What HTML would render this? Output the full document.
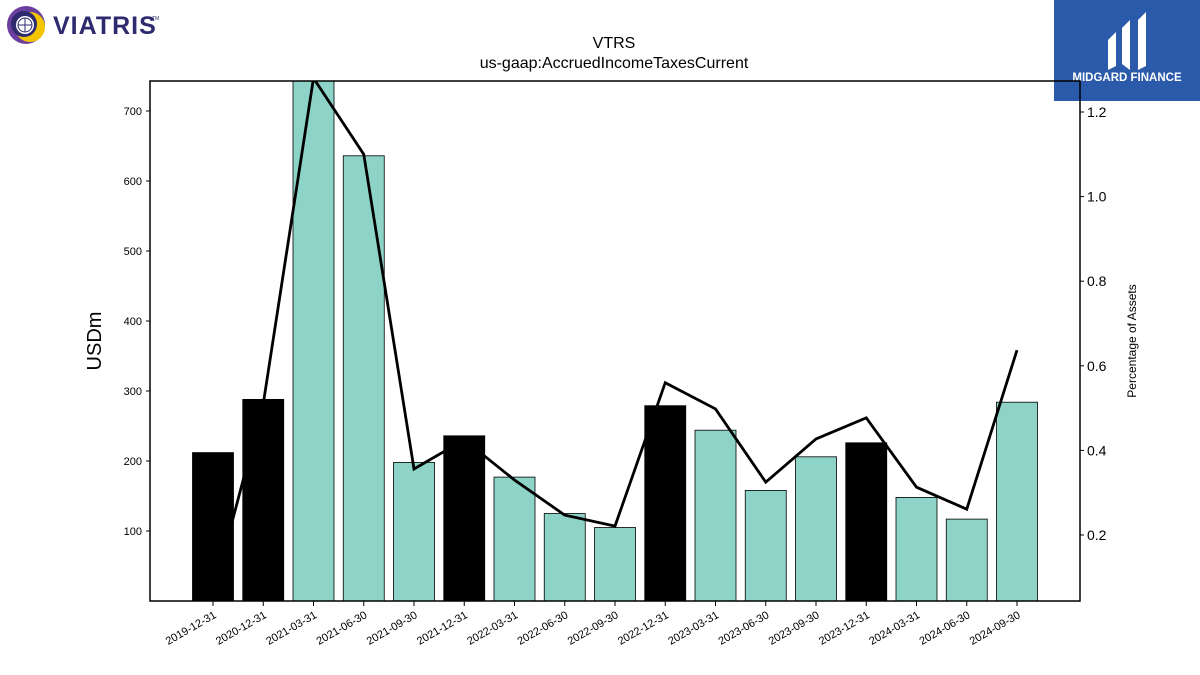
<!DOCTYPE html>
<html><head><meta charset="utf-8"><style>
body{margin:0;background:#fff;font-family:"Liberation Sans","DejaVu Sans",sans-serif;}
#wrap{position:relative;width:1200px;height:675px;overflow:hidden;}
</style></head><body>
<div id="wrap">
<svg id="chart" width="1200" height="675" xmlns="http://www.w3.org/2000/svg">
  <g>
    <circle cx="26" cy="25" r="19" fill="#6b3fa0"/>
    <circle cx="30" cy="27" r="15" fill="#f2c500"/>
    <circle cx="24" cy="24" r="13" fill="#2d2a6e"/>
    <circle cx="25" cy="25" r="9" fill="#fff"/>
    <circle cx="25" cy="25" r="7" fill="none" stroke="#2d2a6e" stroke-width="1"/>
    <line x1="18" y1="25" x2="32" y2="25" stroke="#2d2a6e" stroke-width="1"/>
    <line x1="25" y1="18" x2="25" y2="32" stroke="#2d2a6e" stroke-width="1"/>
    <text x="53" y="34" font-size="25" font-weight="bold" fill="#2d2a6e" letter-spacing="1">VIATRIS</text>
    <text x="152" y="20" font-size="5" fill="#2d2a6e">TM</text>
  </g>
  <g>
    <rect x="1054" y="0" width="146" height="101" fill="#2b5aab"/>
    <path d="M1108 40 L1116 32 L1116 66 L1108 70 Z M1122 28 L1130 20 L1130 70 L1122 64 Z M1138 20 L1146 12 L1146 66 L1138 70 Z" fill="#fff"/>
    <text x="1127" y="81" font-size="11.5" font-weight="bold" fill="#fff" text-anchor="middle">MIDGARD FINANCE</text>
  </g>
  <text x="614" y="48" font-size="16" text-anchor="middle">VTRS</text>
  <text x="614" y="68" font-size="16" text-anchor="middle">us-gaap:AccruedIncomeTaxesCurrent</text>
  <g id="bars"></g>
  <g id="line"></g>
  <g id="axes"></g>
  <text transform="translate(101,341) rotate(-90)" font-size="20" text-anchor="middle">USDm</text>
  <text transform="translate(1136,341) rotate(-90)" font-size="12" text-anchor="middle">Percentage of Assets</text>
</svg>
</div>
<script>
const categories=["2019-12-31","2020-12-31","2021-03-31","2021-06-30","2021-09-30","2021-12-31","2022-03-31","2022-06-30","2022-09-30","2022-12-31","2023-03-31","2023-06-30","2023-09-30","2023-12-31","2024-03-31","2024-06-30","2024-09-30"];
const values=[212,288,750,636,198,236,177,125,105,279,244,158,206,226,148,117,284];
const annual=[true,true,false,false,false,true,false,false,false,true,false,false,false,true,false,false,false];
const pct=[0.06,0.51,1.28,1.10,0.356,0.425,0.33,0.247,0.221,0.56,0.498,0.325,0.427,0.477,0.313,0.261,0.637];
const leftTicks=[100,200,300,400,500,600,700];
const rightTicks=[0.2,0.4,0.6,0.8,1.0,1.2];
const NS="http://www.w3.org/2000/svg";
const L=150,R=1080,T=81,B=601;
const x=i=>213+i*50.25;
const y=v=>601-v*0.7;
const y2=v=>535-(v-0.2)*423;
function mk(tag,attrs,parent){const e=document.createElementNS(NS,tag);for(const k in attrs)e.setAttribute(k,attrs[k]);parent.appendChild(e);return e;}
const cp=mk('clipPath',{id:'clip'},document.getElementById('chart'));
mk('rect',{x:L,y:T,width:R-L,height:B-T},cp);
const gb=document.getElementById('bars');gb.setAttribute('clip-path','url(#clip)');
values.forEach((v,i)=>{
  const r=mk('rect',{x:x(i)-20.5,y:y(v),width:41,height:B-y(v),fill:annual[i]?'#000':'#8dd3c7',stroke:'#000','stroke-width':0.8},gb);
  
  
});
const gl=document.getElementById('line');gl.setAttribute('clip-path','url(#clip)');
const pl=mk('polyline',{points:pct.map((v,i)=>x(i)+','+y2(v)).join(' '),fill:'none',stroke:'#000','stroke-width':2.8},gl);


const ga=document.getElementById('axes');
const fr=mk('rect',{x:L,y:T,width:R-L,height:B-T,fill:'none',stroke:'#000','stroke-width':1.5},ga);


leftTicks.forEach(t=>{
  mk('line',{x1:L-4,x2:L,y1:y(t),y2:y(t),stroke:'#000'},ga);
  const tx=mk('text',{x:L-8,y:y(t)+4,'font-size':11,'text-anchor':'end'},ga);tx.textContent=t;
  
  
});
rightTicks.forEach(t=>{
  mk('line',{x1:R,x2:R+4,y1:y2(t),y2:y2(t),stroke:'#000'},ga);
  const tx=mk('text',{x:R+7,y:y2(t)+5,'font-size':14},ga);tx.textContent=t.toFixed(1);
  
  
});
categories.forEach((c,i)=>{
  mk('line',{x1:x(i),x2:x(i),y1:B,y2:B+5,stroke:'#000'},ga);
  const tx=mk('text',{'font-size':11,'text-anchor':'end',transform:`translate(${x(i)+4},${B+16}) rotate(-30)`},ga);tx.textContent=c;
  
  
});
</script>
</body></html>
